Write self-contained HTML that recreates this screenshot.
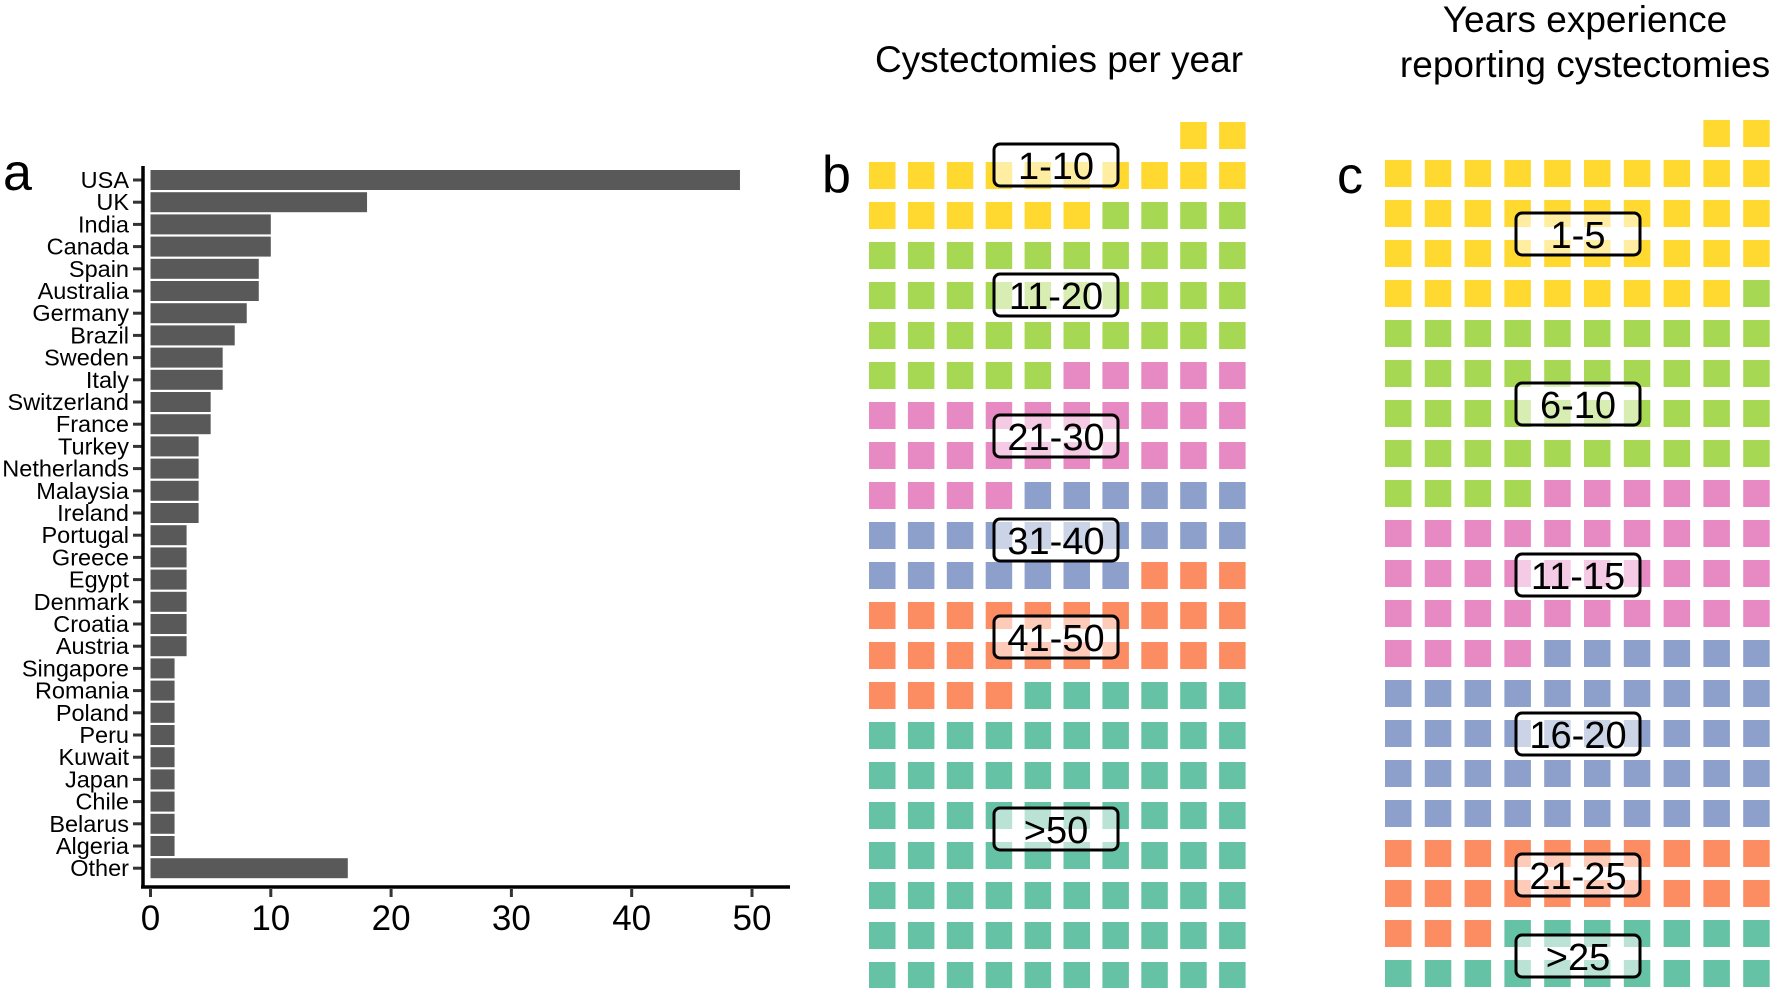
<!DOCTYPE html>
<html><head><meta charset="utf-8"><style>
html,body{margin:0;padding:0;background:#fff;}
svg{display:block;font-family:"Liberation Sans",sans-serif;}
</style></head><body>
<svg id="fig" width="1772" height="988" viewBox="0 0 1772 988" xmlns="http://www.w3.org/2000/svg">
<g id="pa"></g>
<g id="pb"></g>
<g id="pc"></g>
<text x="3" y="190" font-size="52">a</text>
<text x="822" y="192" font-size="52">b</text>
<text x="1337" y="193" font-size="52">c</text>
<text x="1059" y="72" font-size="37" text-anchor="middle">Cystectomies per year</text>
<text x="1585" y="32" font-size="37" text-anchor="middle">Years experience</text>
<text x="1585" y="77" font-size="37" text-anchor="middle">reporting cystectomies</text>
</svg>
<script>
const countries = ["USA","UK","India","Canada","Spain","Australia","Germany","Brazil","Sweden","Italy","Switzerland","France","Turkey","Netherlands","Malaysia","Ireland","Portugal","Greece","Egypt","Denmark","Croatia","Austria","Singapore","Romania","Poland","Peru","Kuwait","Japan","Chile","Belarus","Algeria","Other"];
const countryCounts = [49,18,10,10,9,9,8,7,6,6,5,5,4,4,4,4,3,3,3,3,3,3,2,2,2,2,2,2,2,2,2,16.4];
const xTicks = [0,10,20,30,40,50];
const volumeLabels = ["1-10","11-20","21-30","31-40","41-50",">50"];
const volumeCounts = [18,39,29,23,27,76];
const expLabels = ["1-5","6-10","11-15","16-20","21-25",">25"];
const expCounts = [41,45,40,46,23,17];
const palette = ["#FFD92F","#A6D854","#E78AC3","#8DA0CB","#FC8D62","#66C2A5"];

const NS="http://www.w3.org/2000/svg";
function mk(tag,attrs,parent){const e=document.createElementNS(NS,tag);for(const k in attrs)e.setAttribute(k,attrs[k]);parent.appendChild(e);return e;}

// Panel a
const pa=document.getElementById('pa');
const x0=150.5, xs=12.03;
const xScale=v=>x0+v*xs;
const rowTop=170, pitch=22.2, barH=20;
const yScale=i=>rowTop+i*pitch;
countries.forEach((c,i)=>{
  const y=yScale(i);
  const r=mk('rect',{x:xScale(0),y:y,width:xScale(countryCounts[i])-xScale(0),height:barH,fill:'#595959'},pa);
  
  
  const t=mk('line',{x1:133,x2:142,y1:y+barH/2,y2:y+barH/2,stroke:'#333','stroke-width':3},pa);
  
  
  const l=mk('text',{x:129,y:y+barH/2+8,'font-size':23.5,'text-anchor':'end'},pa);
  l.textContent=c;
  
  
});
const ya=mk('line',{x1:143,x2:143,y1:166,y2:888,stroke:'#000','stroke-width':3.5},pa);


const xa=mk('line',{x1:141,x2:790,y1:887,y2:887,stroke:'#000','stroke-width':3.5},pa);


xTicks.forEach(v=>{
  const tk=mk('line',{x1:xScale(v),x2:xScale(v),y1:889,y2:897,stroke:'#333','stroke-width':3},pa);
  
  
  const tl=mk('text',{x:xScale(v),y:930,'font-size':35,'text-anchor':'middle'},pa);
  tl.textContent=v;
  
  
});

// Waffles
function waffle(g,counts,labels,x0,colP,y0,labelTops,boxX){
  const total=counts.reduce((a,b)=>a+b,0);
  const off=(10-total%10)%10;
  let idx=0;
  counts.forEach((n,ci)=>{
    for(let k=0;k<n;k++){
      const p=idx+off;idx++;
      const row=Math.floor(p/10),col=p%10;
      const r=mk('rect',{x:x0+col*colP,y:y0+row*40,width:26.5,height:27,fill:palette[ci]},g);
      
      
    }
  });
  labels.forEach((lb,i)=>{
    const b=mk('rect',{x:boxX,y:labelTops[i],width:124,height:42,rx:6,fill:'rgba(255,255,255,0.55)',stroke:'#000','stroke-width':3},g);
    
    
    const t=mk('text',{x:boxX+62,y:labelTops[i]+35,'font-size':38,'text-anchor':'middle'},g);
    t.textContent=lb;
    
    
  });
}
waffle(document.getElementById('pb'),volumeCounts,volumeLabels,869,38.9,122,[144,274,415,519,616,808],994);
waffle(document.getElementById('pc'),expCounts,expLabels,1385,39.8,120,[213,383,554,713,854,935],1516);
</script>
</body></html>
